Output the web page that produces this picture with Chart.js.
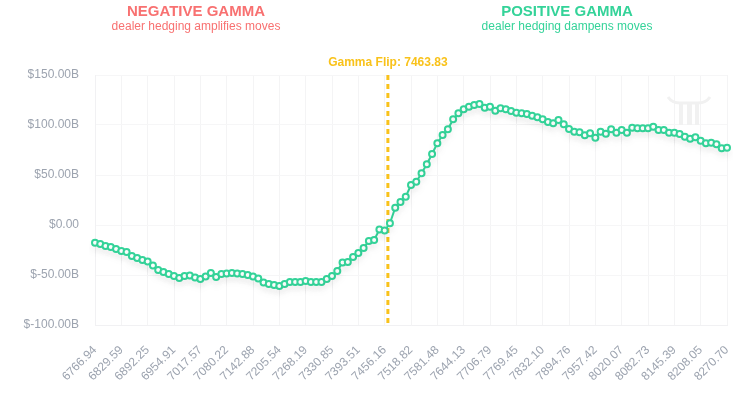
<!DOCTYPE html>
<html>
<head>
<meta charset="utf-8">
<script src="https://cdn.jsdelivr.net/npm/chart.js@4.4.1/dist/chart.umd.min.js"></script>
<style>
  html, body { margin: 0; padding: 0; background: #fff; }
  #wrap { width: 745px; height: 408px; }
</style>
</head>
<body>
<div id="wrap"><canvas id="gexChart" width="745" height="408"></canvas></div>
<script>
// strikes (x categories)
const strikes = [
  6766.94, 6779.47, 6792.00, 6804.53, 6817.07,
  6829.59, 6842.12, 6854.65, 6867.18, 6879.72,
  6892.25, 6904.78, 6917.31, 6929.84, 6942.38,
  6954.91, 6967.44, 6979.97, 6992.50, 7005.04,
  7017.57, 7030.10, 7042.63, 7055.16, 7067.70,
  7080.22, 7092.75, 7105.28, 7117.81, 7130.35,
  7142.88, 7155.41, 7167.94, 7180.47, 7193.01,
  7205.54, 7218.07, 7230.60, 7243.13, 7255.67,
  7268.19, 7280.72, 7293.25, 7305.78, 7318.32,
  7330.85, 7343.38, 7355.91, 7368.44, 7380.98,
  7393.51, 7406.04, 7418.57, 7431.10, 7443.64,
  7456.16, 7468.69, 7481.22, 7493.75, 7506.29,
  7518.82, 7531.35, 7543.88, 7556.41, 7568.95,
  7581.48, 7594.01, 7606.54, 7619.07, 7631.61,
  7644.13, 7656.66, 7669.19, 7681.72, 7694.26,
  7706.79, 7719.32, 7731.85, 7744.38, 7756.92,
  7769.45, 7781.98, 7794.51, 7807.04, 7819.58,
  7832.10, 7844.63, 7857.16, 7869.69, 7882.23,
  7894.76, 7907.29, 7919.82, 7932.35, 7944.89,
  7957.42, 7969.95, 7982.48, 7995.01, 8007.55,
  8020.07, 8032.60, 8045.13, 8057.66, 8070.20,
  8082.73, 8095.26, 8107.79, 8120.32, 8132.86,
  8145.39, 8157.92, 8170.45, 8182.98, 8195.52,
  8208.05, 8220.58, 8233.11, 8245.64, 8258.18,
  8270.70
];

// net gamma exposure, billions $
const gexBillions = [
  -17.7, -19, -21, -22, -24, -26, -27, -31, -33, -35,
  -36.5, -40.5, -45, -47, -49, -51, -53, -51, -50.5, -52.5,
  -54, -51.5, -48, -52, -49, -48.5, -48, -48.5, -49, -50,
  -51.5, -53.5, -57.5, -59, -60, -61, -59, -57, -57, -57,
  -56, -57, -57, -57, -54, -51, -46, -37.5, -37, -32,
  -28, -23, -16, -15, -4.5, -5.5, 1.7, 17.3, 23, 28.3,
  40, 43.3, 51.7, 60.7, 71, 81.7, 90, 95.7, 105.7, 111.7,
  115.7, 118.3, 120, 121, 117.3, 118.3, 114.3, 116.7, 115.7, 114,
  112.3, 111.7, 111, 109.3, 107.7, 105.7, 103, 101.7, 105, 100.7,
  96, 93.3, 92.7, 89.7, 91.7, 87.3, 93.3, 91.3, 95.7, 92.3,
  95, 92.3, 97.3, 96.7, 96.7, 96.7, 98.3, 95, 95, 92.3,
  92.3, 91, 88.3, 86.3, 87.7, 84.3, 81.7, 82.3, 80.7, 76.7,
  77.3
];

const gammaFlip = 7463.83;
const regimeTitles = ['NEGATIVE GAMMA', 'POSITIVE GAMMA'];
const regimeNotes = ['dealer hedging amplifies moves', 'dealer hedging dampens moves'];
const yMin = -100, yMax = 150, yStep = 50;

const GREEN = '#34d399';
const RED = '#f87171';
const YELLOW = '#f9c21a';
const GRAY = '#9ca3af';

Chart.defaults.font.family = '"Liberation Sans", Arial, sans-serif';

// find where the flip strike sits between two categories
function flipPixel(xScale) {
  for (let i = 0; i < strikes.length - 1; i++) {
    if (gammaFlip >= strikes[i] && gammaFlip <= strikes[i + 1]) {
      let f = (gammaFlip - strikes[i]) / (strikes[i + 1] - strikes[i]);
      let a = xScale.getPixelForValue(i), b = xScale.getPixelForValue(i + 1);
      return a + (b - a) * f;
    }
  }
  return xScale.getPixelForValue(0);
}

function fmtBillions(v) {
  if (v === 0) return '$0.00';
  return '$' + v.toFixed(2) + 'B';
}

const overlay = {
  id: 'overlay',
  beforeDatasetsDraw(chart) {
    const ctx = chart.ctx, area = chart.chartArea;
    const x = flipPixel(chart.scales.x);

    // watermark
    ctx.save();
    ctx.fillStyle = '#f1f1f1';
    ctx.strokeStyle = '#f1f1f1';
    ctx.lineWidth = 3;
    ctx.beginPath();
    ctx.moveTo(668, 97);
    ctx.quadraticCurveTo(672, 103, 680, 103);
    ctx.lineTo(698, 103);
    ctx.quadraticCurveTo(706, 103, 710, 97);
    ctx.stroke();
    ctx.fillRect(679, 104, 4, 21);
    ctx.fillRect(687, 104, 5, 21);
    ctx.fillRect(695, 104, 4, 21);
    ctx.restore();

    // gamma flip line
    ctx.save();
    ctx.strokeStyle = YELLOW;
    ctx.lineWidth = 3;
    ctx.setLineDash([5, 4]);
    ctx.beginPath();
    ctx.moveTo(x, area.top);
    ctx.lineTo(x, area.bottom + 2);
    ctx.stroke();
    ctx.restore();
  },
  beforeDatasetDraw(chart) {
    const ctx = chart.ctx;
    ctx.save();
    ctx.shadowColor = 'rgba(0,0,0,0.07)';
    ctx.shadowBlur = 8;
    ctx.shadowOffsetY = 5;
  },
  afterDatasetDraw(chart) {
    chart.ctx.restore();
  },
  afterDraw(chart) {
    const ctx = chart.ctx;
    const x = flipPixel(chart.scales.x);
    const centers = [196, 567];
    const colors = [RED, GREEN];
    ctx.save();
    ctx.textAlign = 'center';
    ctx.textBaseline = 'alphabetic';
    for (let i = 0; i < 2; i++) {
      ctx.fillStyle = colors[i];
      ctx.font = 'bold 15px "Liberation Sans", Arial, sans-serif';
      ctx.fillText(regimeTitles[i], centers[i], 16);
      ctx.font = '12px "Liberation Sans", Arial, sans-serif';
      ctx.fillText(regimeNotes[i], centers[i], 30);
    }
    ctx.fillStyle = YELLOW;
    ctx.font = 'bold 12px "Liberation Sans", Arial, sans-serif';
    ctx.fillText('Gamma Flip: ' + gammaFlip.toFixed(2), x, 66);
    ctx.restore();
  }
};

new Chart(document.getElementById('gexChart').getContext('2d'), {
  type: 'line',
  data: {
    labels: strikes.map(s => s.toFixed(2)),
    datasets: [{
      data: gexBillions,
      borderColor: GREEN,
      borderWidth: 2,
      backgroundColor: '#ffffff',
      pointBackgroundColor: '#ffffff',
      pointBorderColor: GREEN,
      pointBorderWidth: 2,
      pointRadius: 3,
      tension: 0,
      fill: false
    }]
  },
  options: {
    responsive: false,
    animation: false,
    layout: { padding: { top: 75, right: 18, left: 0, bottom: 0 } },
    plugins: { legend: { display: false }, tooltip: { enabled: false } },
    scales: {
      x: {
        afterFit(scale) {
          scale.height = 83;
          scale.paddingRight = 0;
          scale.paddingLeft = 0;
        },
        grid: {
          drawTicks: false,
          color: ctx => (ctx.index % 5 === 0 ? '#f4f4f5' : 'transparent')
        },
        border: { color: '#f1f1f3' },
        ticks: {
          autoSkip: false,
          minRotation: 45,
          maxRotation: 45,
          padding: 18,
          color: GRAY,
          font: { size: 12 },
          callback: function(v, i) { return i % 5 === 0 ? strikes[i].toFixed(2) : ''; }
        }
      },
      y: {
        min: yMin,
        max: yMax,
        afterFit(scale) { scale.width = 95; },
        grid: { drawTicks: false, color: '#f6f6f7' },
        border: { color: '#f1f1f3' },
        ticks: {
          stepSize: yStep,
          padding: 16,
          color: GRAY,
          font: { size: 12 },
          callback: v => fmtBillions(v)
        }
      }
    }
  },
  plugins: [overlay]
});
</script>
</body>
</html>
